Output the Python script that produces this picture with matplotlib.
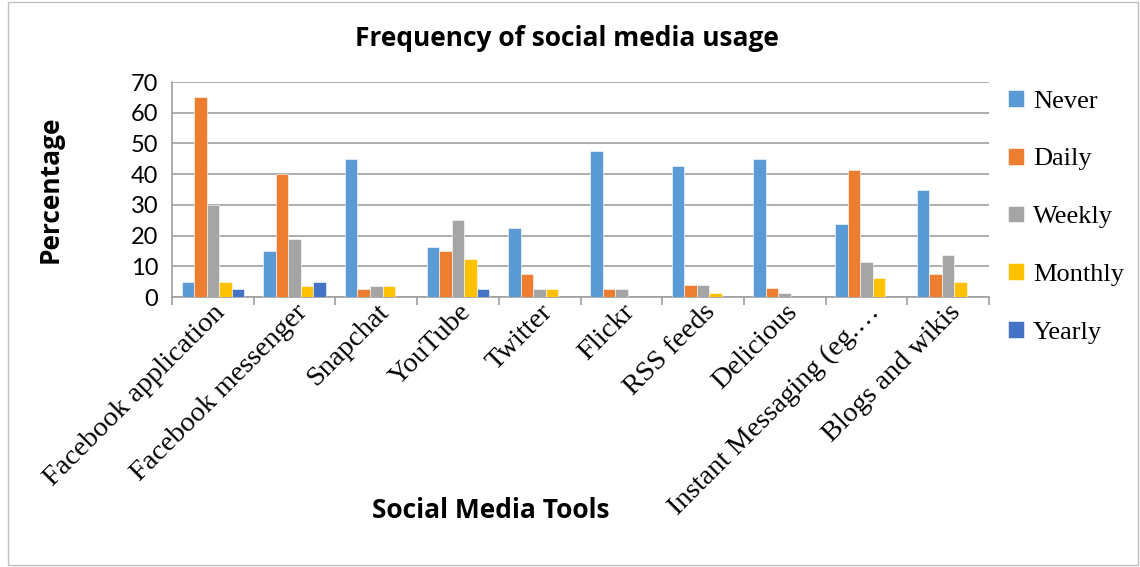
import numpy as np
import matplotlib.pyplot as plt
from matplotlib.patches import Rectangle

tools = ["Facebook application", "Facebook messenger", "Snapchat", "YouTube", "Twitter",
         "Flickr", "RSS feeds", "Delicious", "Instant Messaging (eg.\u2026", "Blogs and wikis"]
series = ["Never", "Daily", "Weekly", "Monthly", "Yearly"]
never = [5, 15, 45, 16.3, 22.5, 47.5, 42.5, 45, 23.8, 35]
daily = [65, 40, 2.5, 15, 7.5, 2.5, 3.8, 3.0, 41.3, 7.5]
weekly = [30, 18.8, 3.7, 25, 2.5, 2.5, 3.8, 1.3, 11.4, 13.8]
monthly = [5, 3.7, 3.7, 12.5, 2.5, 0, 1.3, 0, 6.3, 5]
yearly = [2.5, 5, 0, 2.5, 0, 0, 0, 0, 0, 0]
colors = ["#5b9bd5", "#ed7d31", "#a5a5a5", "#ffc000", "#4472c4"]

fig = plt.figure(figsize=(11.4, 5.67), dpi=100)
ax = fig.add_axes([172/1140, 1 - 297/567, 817/1140, 215/567])

x = np.arange(len(tools))
w = 0.153
for i, (vals, c, name) in enumerate(zip([never, daily, weekly, monthly, yearly], colors, series)):
    ax.bar(x + (i - 2) * w, vals, w, color=c, label=name, zorder=3,
           edgecolor="white", linewidth=0.4)

ax.set_xlim(-0.5, len(tools) - 0.5)
ax.set_ylim(0, 70)
ax.set_yticks(range(0, 71, 10))
ax.grid(axis="y", color="#a0a0a0", linewidth=1.2, zorder=0)
for s in ["top", "right"]:
    ax.spines[s].set_visible(False)
ax.spines["left"].set_color("#a0a0a0")
ax.spines["bottom"].set_color("#a0a0a0")
ax.spines["left"].set_linewidth(1.2)
ax.spines["bottom"].set_linewidth(1.2)
ax.tick_params(axis="y", length=0, labelsize=17, pad=10)
for lab in ax.get_yticklabels():
    lab.set_family("Lato")

ax.set_xticks(np.arange(-0.5, len(tools), 1), minor=False)
ax.set_xticklabels([])
ax.tick_params(axis="x", which="major", length=6, color="#a0a0a0", width=1.2)
ax.set_xticks(x, minor=True)
ax.set_xticklabels(tools, minor=True, rotation=45, ha="right", rotation_mode="anchor",
                   family="Liberation Serif", fontsize=20.5)
ax.tick_params(axis="x", which="minor", length=0, pad=2)

ax.set_ylabel("Percentage", fontsize=19, fontweight="bold", family="Open Sans")
ax.yaxis.set_label_coords(-108/817, 0.5)
fig.text(491/1140, 1 - 511/567, "Social Media Tools", fontsize=19, fontweight="bold",
         family="Open Sans", ha="center", va="center")
fig.text(567/1140, 1 - 38/567, "Frequency of social media usage", fontsize=19, fontweight="bold",
         family="Open Sans", ha="center", va="center")

ax.legend(loc="upper left", bbox_to_anchor=(1008/1140, 1 - 90/567),
          bbox_transform=fig.transFigure, frameon=False,
          prop={"family": "Liberation Serif", "size": 19}, handlelength=0.6,
          handleheight=0.6, labelspacing=1.33, handletextpad=0.35,
          borderaxespad=0, borderpad=0)

fig.patches.append(Rectangle((8/1140, 2/567), 1130/1140, 563/567, transform=fig.transFigure,
                             fill=False, edgecolor="#bfbfbf", linewidth=1))

fig.savefig("out.png", dpi=100)
